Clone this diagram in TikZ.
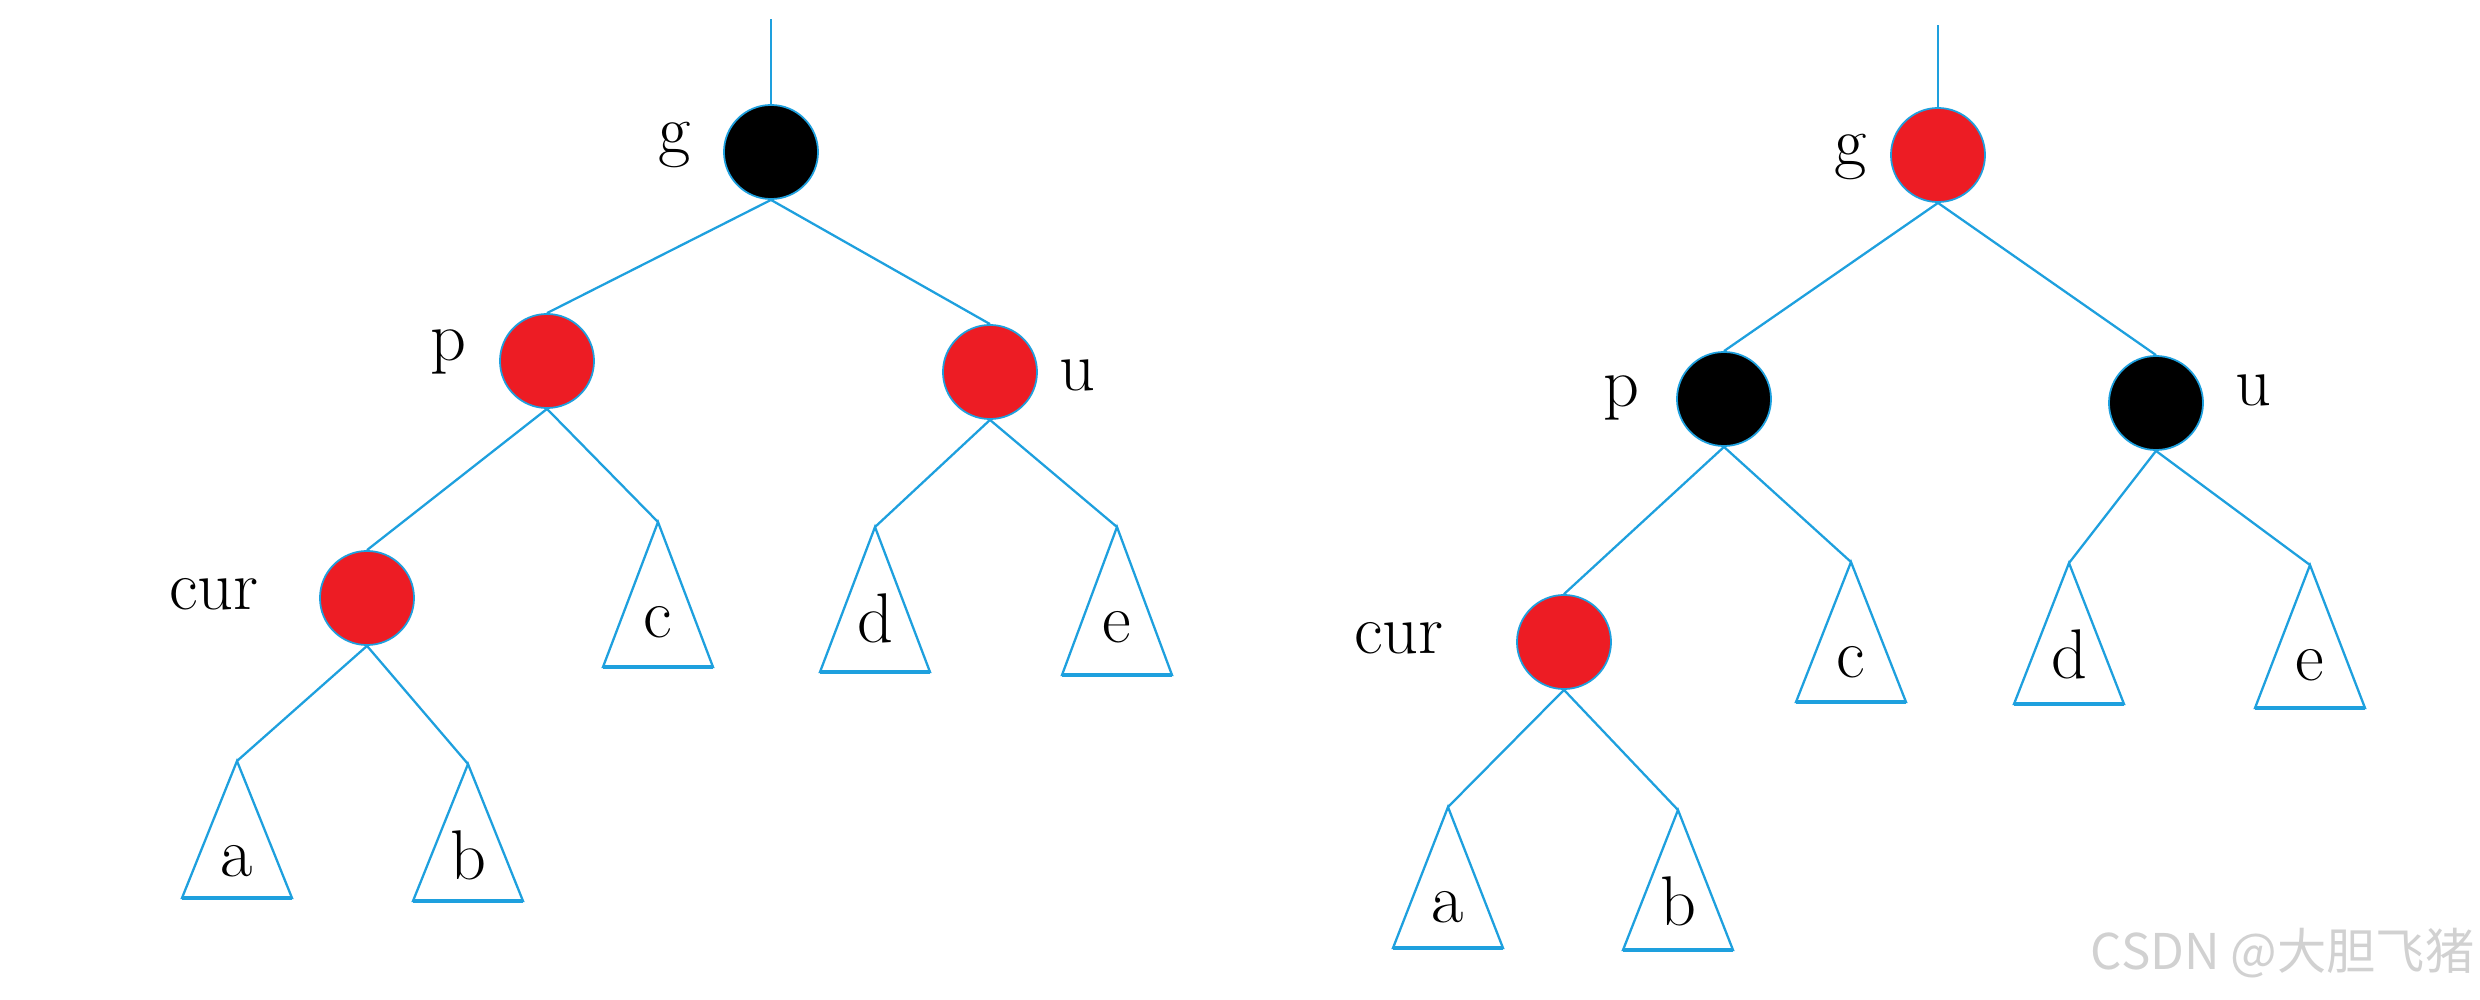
\documentclass[tikz,border=0pt]{standalone}
\usepackage{fontspec}
\newfontfamily\cjkfont{Noto Sans CJK SC}
\definecolor{edgeblue}{RGB}{30,160,222}
\definecolor{rbred}{RGB}{237,28,36}
\tikzset{
  rb/.style={circle,minimum size=0.94cm,inner sep=0pt,draw=edgeblue,line width=0.5pt},
  rednode/.style={rb,fill=rbred},
  blacknode/.style={rb,fill=black},
  link/.style={draw=edgeblue,line width=0.65pt,line join=miter},
  basel/.style={draw=edgeblue,line width=1.2pt},
  lbl/.style={font=\fontsize{20}{24}\selectfont,inner sep=0pt},
  wmark/.style={font=\cjkfont\fontsize{14}{16}\selectfont,text=black!18,inner sep=0pt}
}
\newcommand\subtri[4]{%
  \coordinate (#1) at #2;
  \draw[link] (#1) -- ++(-55,#3) -- ++(110,0) -- cycle;
  \draw[basel] (#1) ++(-55,#3) -- ++(110,0);
  \path (#1) ++(0,115) node[lbl,anchor=base] (#1l) {#4};
}
\begin{document}
\begin{tikzpicture}[x=0.01cm,y=-0.01cm]
\useasboundingbox (0,0) rectangle (2480,1000);

% ---------- left tree ----------
\node[blacknode] (Lg) at (771,152) {};
\node[rednode] (Lp) at (547,361) {};
\node[rednode] (Lu) at (990,372) {};
\node[rednode] (Lcur) at (367,598) {};
\coordinate (Ltop) at (771,19);

\node[lbl] (Lgl) at (675,145) {g};
\node[lbl] (Lpl) at (448,352) {p};
\node[lbl] (Lul) at (1077,375) {u};
\node[lbl] (Lcurl) at (214,594) {cur};

\subtri{Lc}{(658,522)}{145}{c}
\subtri{Ld}{(875,527)}{145}{d}
\subtri{Le}{(1117,527)}{148}{e}
\subtri{La}{(237,761)}{137}{a}
\subtri{Lb}{(468,764)}{137}{b}

\draw[link] (Ltop) -- (Lg.north);
\draw[link] (Lg.south) -- (Lp.north);
\draw[link] (Lg.south) -- (Lu.north);
\draw[link] (Lp.south) -- (Lcur.north);
\draw[link] (Lp.south) -- (Lc);
\draw[link] (Lu.south) -- (Ld);
\draw[link] (Lu.south) -- (Le);
\draw[link] (Lcur.south) -- (La);
\draw[link] (Lcur.south) -- (Lb);

% ---------- right tree ----------
\node[rednode] (Rg) at (1938,155) {};
\node[blacknode] (Rp) at (1724,399) {};
\node[blacknode] (Ru) at (2156,403) {};
\node[rednode] (Rcur) at (1564,642) {};
\coordinate (Rtop) at (1938,25);

\node[lbl] (Rgl) at (1851,157) {g};
\node[lbl] (Rpl) at (1621,398) {p};
\node[lbl] (Rul) at (2253,390) {u};
\node[lbl] (Rcurl) at (1399,638) {cur};

\subtri{Rc}{(1851,562)}{140}{c}
\subtri{Rd}{(2069,563)}{141}{d}
\subtri{Re}{(2310,565)}{143}{e}
\subtri{Ra}{(1448,807)}{141}{a}
\subtri{Rb}{(1678,810)}{140}{b}

\draw[link] (Rtop) -- (Rg.north);
\draw[link] (Rg.south) -- (Rp.north);
\draw[link] (Rg.south) -- (Ru.north);
\draw[link] (Rp.south) -- (Rcur.north);
\draw[link] (Rp.south) -- (Rc);
\draw[link] (Ru.south) -- (Rd);
\draw[link] (Ru.south) -- (Re);
\draw[link] (Rcur.south) -- (Ra);
\draw[link] (Rcur.south) -- (Rb);

\node[wmark,anchor=east] (wm) at (2475,953) {CSDN @大胆飞猪};
\end{tikzpicture}
\end{document}
